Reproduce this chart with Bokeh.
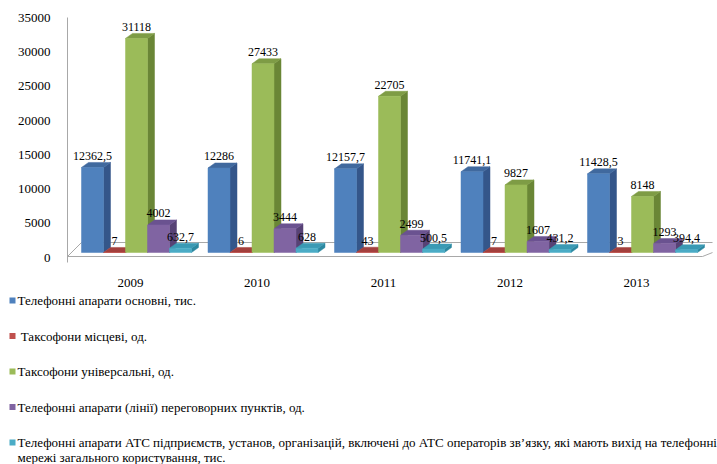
import numpy as np
from bokeh.plotting import figure
from bokeh.layouts import column
from bokeh.models import Range1d, LinearAxis, FixedTicker
from bokeh.core.properties import value
from bokeh.embed import file_html
from bokeh.resources import INLINE

# ---------------- data ----------------
years = ["2009", "2010", "2011", "2012", "2013"]
series_names = [
    "Телефонні апарати основні, тис.",
    "\u00a0Таксофони місцеві, од.",
    "Таксофони універсальні, од.",
    "Телефонні апарати (лінії) переговорних пунктів, од.",
    "Телефонні апарати АТС  підприємств, установ, організацій, включені до АТС  операторів зв’язку, які мають вихід на телефонні\nмережі загального користування, тис.",
]
main_phones = [12362.5, 12286, 12157.7, 11741.1, 11428.5]
local_payphones = [7, 6, 43, 7, 3]
universal_payphones = [31118, 27433, 22705, 9827, 8148]
call_office_phones = [4002, 3444, 2499, 1607, 1293]
pbx_phones = [632.7, 628, 500.5, 431.2, 394.4]
y_ticks = [0, 5000, 10000, 15000, 20000, 25000, 30000, 35000]

series = [main_phones, local_payphones, universal_payphones, call_office_phones, pbx_phones]
front_colors = ["#4F81BD", "#C0504D", "#9BBB59", "#8064A2", "#4BACC6"]
side_colors = ["#34568A", "#8A3432", "#6A8636", "#574275", "#2C88A0"]
top_colors = ["#40699E", "#A3403D", "#7E9C45", "#6A5290", "#3A9AB4"]

FONT = "'Liberation Serif', 'Times New Roman', serif"

# ---------------- layout (pixels) ----------------
W, H_MAIN, H_LEG = 717, 290, 174
BL, BR, BT, BB = 67, 5, 17, 28
FW, FH = W - BL - BR, H_MAIN - BT - BB
PX_GROUP = 126.5          # px per category
PX_UNIT = 0.00688         # px per value unit (bars)
PX_UNIT_T = 0.00685       # px per value unit (tick wall)
ZERO_PX = 10              # bar zero above frame bottom
ZERO_PX_T = 5             # tick zero above frame bottom
BAR_PX = 22
DX_PX, DY_PX = 7, 5

x_start = -63 / PX_GROUP
x_end = x_start + FW / PX_GROUP
y_start = -ZERO_PX / PX_UNIT
y_end = y_start + FH / PX_UNIT
t_start = -ZERO_PX_T / PX_UNIT_T
t_end = t_start + FH / PX_UNIT_T

bw = BAR_PX / PX_GROUP
dx = DX_PX / PX_GROUP
dy = DY_PX / PX_UNIT
offsets = (np.arange(len(series)) * BAR_PX - 38) / PX_GROUP

p = figure(width=W, height=H_MAIN, output_backend="svg", toolbar_location=None,
           x_range=Range1d(x_start, x_end), y_range=Range1d(y_start, y_end),
           y_axis_location=None, x_axis_location="below")
p.frame_width = FW
p.frame_height = FH
p.min_border_left = BL
p.min_border_right = BR
p.min_border_top = BT
p.min_border_bottom = BB
p.outline_line_color = None
p.grid.visible = False
p.background_fill_color = "white"
p.frame_align = False

# floor
fl_front = -4 / PX_UNIT
fl_back = 10 / PX_UNIT
fl_dx = 14 / PX_GROUP
fl_right = x_start + 635 / PX_GROUP
p.patch([x_start, x_start + fl_dx, x_end + 0.2, fl_right],
        [fl_front, fl_back, fl_back, fl_front],
        fill_color="white", line_color="#A8A8A8", line_width=1)

# y axis on tick wall range
p.extra_y_ranges = {"ticks": Range1d(t_start, t_end)}
yax = LinearAxis(y_range_name="ticks", ticker=FixedTicker(ticks=y_ticks))
yax.axis_line_color = "#A8A8A8"
yax.major_tick_line_color = None
yax.minor_tick_line_color = None
yax.major_label_text_font = FONT
yax.major_label_text_font_size = "13px"
yax.major_label_text_color = "black"
yax.major_label_standoff = 11
p.add_layout(yax, "left")

# x axis
xax = p.xaxis[0]
xax.ticker = FixedTicker(ticks=list(range(len(years))))
xax.major_label_overrides = {i: y for i, y in enumerate(years)}
xax.axis_line_color = None
xax.major_tick_line_color = None
xax.minor_tick_line_color = None
xax.major_label_text_font = FONT
xax.major_label_text_font_size = "13px"
xax.major_label_text_color = "black"
xax.major_label_standoff = 10

# 3D faces
xs, ys, cs = [], [], []
for g in range(len(years)):
    for k, vals in enumerate(series):
        v = vals[g]
        x0 = g + offsets[k] - bw / 2
        x1 = x0 + bw
        xs.append([x1, x1 + dx, x1 + dx, x1])
        ys.append([0, dy, v + dy, v])
        cs.append(side_colors[k])
        xs.append([x0, x0 + dx, x1 + dx, x1])
        ys.append([v, v + dy, v + dy, v])
        cs.append(top_colors[k])
p.patches(xs, ys, fill_color=cs, line_color=cs, line_width=0.5)

def fmt(v):
    s = ("%.1f" % v).rstrip("0").rstrip(".")
    return s.replace(".", ",")

for k, vals in enumerate(series):
    xc = [g + offsets[k] for g in range(len(years))]
    p.vbar(x=xc, top=vals, bottom=0, width=bw, fill_color=front_colors[k],
           line_color=front_colors[k], line_width=0.5)

for k, vals in enumerate(series):
    xc = [g + offsets[k] for g in range(len(years))]
    p.text(x=xc, y=[v + 11.5 / PX_UNIT for v in vals], text=[fmt(v) for v in vals],
           text_align="center", text_baseline="middle", text_font=value(FONT),
           text_font_size="12px", text_color="black")

# ---------------- legend ----------------
lg = figure(width=W, height=H_LEG, output_backend="svg", toolbar_location=None,
            x_range=Range1d(0, W), y_range=Range1d(H_LEG, 0),
            x_axis_location=None, y_axis_location=None, min_border=0)
lg.frame_width = W
lg.frame_height = H_LEG
lg.outline_line_color = None
lg.grid.visible = False
lg.frame_align = False

LEG_TOP, LEG_STEP, LINE_H = 10, 35.5, 15
mx, my, tx, ty, tt = [], [], [], [], []
for k, name in enumerate(series_names):
    yc = LEG_TOP + k * LEG_STEP
    mx.append(12)
    my.append(yc)
    for j, line in enumerate(name.split("\n")):
        tx.append(17)
        ty.append(yc + j * LINE_H)
        tt.append(line)
lg.scatter(x=mx, y=my, marker="square", size=6, fill_color=front_colors, line_color=None)
lg.text(x=tx, y=ty, text=tt, text_align="left", text_baseline="middle",
        text_font=value(FONT), text_font_size="13px", text_color="black")

layout = column(p, lg, spacing=0)
open("out.html", "w").write(file_html(layout, INLINE))
